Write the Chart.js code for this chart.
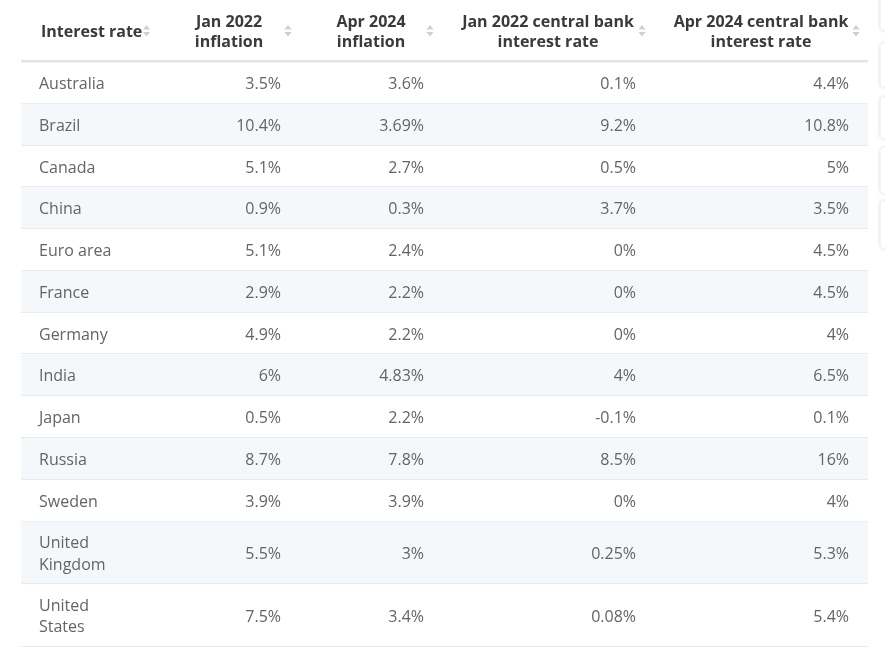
<!DOCTYPE html>
<html>
<head>
<meta charset="utf-8">
<script src="https://cdn.jsdelivr.net/npm/chart.js@4"></script>
<style>
  html, body { margin: 0; padding: 0; background: #ffffff; }
  #wrap { position: relative; width: 885px; height: 655px; }
</style>
</head>
<body>
<div id="wrap"><canvas id="c"></canvas></div>
<script>
// ---------- DATA ----------
const headers = [
  ["Interest rate"],
  ["Jan 2022", "inflation"],
  ["Apr 2024", "inflation"],
  ["Jan 2022 central bank", "interest rate"],
  ["Apr 2024 central bank", "interest rate"]
];
const countries = ["Australia", "Brazil", "Canada", "China", "Euro area", "France", "Germany",
  "India", "Japan", "Russia", "Sweden", "United Kingdom", "United States"];
const jan2022Inflation = [3.5, 10.4, 5.1, 0.9, 5.1, 2.9, 4.9, 6, 0.5, 8.7, 3.9, 5.5, 7.5];
const apr2024Inflation = [3.6, 3.69, 2.7, 0.3, 2.4, 2.2, 2.2, 4.83, 2.2, 7.8, 3.9, 3, 3.4];
const jan2022Rate = [0.1, 9.2, 0.5, 3.7, 0, 0, 0, 4, -0.1, 8.5, 0, 0.25, 0.08];
const apr2024Rate = [4.4, 10.8, 5, 3.5, 4.5, 4.5, 4, 6.5, 0.1, 16, 4, 5.3, 5.4];
const valueColumns = [jan2022Inflation, apr2024Inflation, jan2022Rate, apr2024Rate];

// ---------- LAYOUT / STYLE ----------
const FONT = "'Open Sans', 'Noto Sans', sans-serif";
const BODY_FONT = "16px " + FONT;
const HEAD_FONT = "bold 16px " + FONT;
const BODY_COLOR = "#646464";
const HEAD_COLOR = "#3a3a3a";
const STRIPE = "#f5f8fb";
const RULE = "#e7ebef";
const HEAD_RULE = "#e3e3e3";
const ICON = "#cfcfcf";
const HEADER_UNITS = 1.483;       // header height in row units
const COUNTRY_WRAP = 92;          // px width before country label wraps
const TEXT_SHIFT = 1.5;           // baseline nudge
// column layout in table x-units (0 = table left edge)
const colLayout = [
  { align: "left",  x: 18,  head: 20,  headAlign: "left",  icon: 125.5 },
  { align: "right", x: 260, head: 208, headAlign: "center", icon: 267 },
  { align: "right", x: 403, head: 350, headAlign: "center", icon: 409 },
  { align: "right", x: 615, head: 527, headAlign: "center", icon: 621 },
  { align: "right", x: 828, head: 740, headAlign: "center", icon: 835 }
];

function wrapText(ctx, text, maxW) {
  const words = text.split(" ");
  const lines = [];
  let cur = "";
  words.forEach(w => {
    const t = cur ? cur + " " + w : w;
    if (cur && ctx.measureText(t).width > maxW) { lines.push(cur); cur = w; }
    else cur = t;
  });
  if (cur) lines.push(cur);
  return lines;
}

const measureCtx = document.createElement("canvas").getContext("2d");
measureCtx.font = BODY_FONT;
const countryLines = countries.map(c => wrapText(measureCtx, c, COUNTRY_WRAP));
const rowUnits = countryLines.map(l => 1 + 0.5 * (l.length - 1));
const rowStart = [];
rowUnits.reduce((acc, u, i) => { rowStart[i] = acc; return acc + u; }, 0);
const totalUnits = rowUnits.reduce((a, b) => a + b, 0);

const tablePlugin = {
  id: "tablePlugin",
  beforeDatasetsDraw(chart) {
    const { ctx, scales: { x, y } } = chart;
    const left = x.getPixelForValue(0), right = x.getPixelForValue(x.max);
    ctx.save();
    countries.forEach((c, i) => {
      const top = y.getPixelForValue(rowStart[i]);
      const bot = y.getPixelForValue(rowStart[i] + rowUnits[i]);
      if (i % 2 === 1) { ctx.fillStyle = STRIPE; ctx.fillRect(left, top, right - left, bot - top); }
      ctx.fillStyle = RULE;
      ctx.fillRect(left, Math.round(bot) - 1, right - left, 1);
    });
    const hb = y.getPixelForValue(0);
    ctx.fillStyle = HEAD_RULE;
    ctx.fillRect(left, hb - 2, right - left, 2.5);

    const hMid = (y.getPixelForValue(y.min) + hb) / 2 - 0.5;
    ctx.font = HEAD_FONT;
    ctx.fillStyle = HEAD_COLOR;
    ctx.textBaseline = "middle";
    headers.forEach((lines, ci) => {
      const L = colLayout[ci];
      ctx.textAlign = L.headAlign;
      const hx = x.getPixelForValue(L.head);
      const lh = 20;
      lines.forEach((ln, k) => {
        ctx.fillText(ln, hx, hMid + TEXT_SHIFT + (k - (lines.length - 1) / 2) * lh);
      });
      const ix = x.getPixelForValue(L.icon);
      ctx.fillStyle = ICON;
      ctx.beginPath();
      ctx.moveTo(ix - 3.5, hMid - 1); ctx.lineTo(ix + 3.5, hMid - 1); ctx.lineTo(ix, hMid - 5.5); ctx.closePath();
      ctx.fill();
      ctx.beginPath();
      ctx.moveTo(ix - 3.5, hMid + 1.5); ctx.lineTo(ix + 3.5, hMid + 1.5); ctx.lineTo(ix, hMid + 6); ctx.closePath();
      ctx.fill();
      ctx.fillStyle = HEAD_COLOR;
    });

    ctx.font = BODY_FONT;
    ctx.fillStyle = BODY_COLOR;
    countries.forEach((c, i) => {
      const mid = y.getPixelForValue(rowStart[i] + rowUnits[i] / 2) + TEXT_SHIFT;
      const lines = countryLines[i];
      ctx.textAlign = "left";
      lines.forEach((ln, k) => {
        ctx.fillText(ln, x.getPixelForValue(colLayout[0].x), mid + (k - (lines.length - 1) / 2) * 21.5);
      });
      valueColumns.forEach((col, ci) => {
        ctx.textAlign = "right";
        ctx.fillText(String(col[i]) + "%", x.getPixelForValue(colLayout[ci + 1].x), mid);
      });
    });

    const panels = [[-10, 30], [43, 87], [97, 138], [148, 193], [201, 248]];
    panels.forEach(([t, b]) => {
      ctx.save();
      ctx.shadowColor = "rgba(0,0,0,0.18)";
      ctx.shadowBlur = 4;
      ctx.fillStyle = "#ffffff";
      ctx.beginPath();
      ctx.roundRect(880.5, t, 30, b - t, 4);
      ctx.fill();
      ctx.restore();
    });
    ctx.restore();
  }
};

new Chart(document.getElementById("c"), {
  type: "scatter",
  data: { datasets: [{ data: [], pointRadius: 0 }] },
  options: {
    responsive: true,
    maintainAspectRatio: false,
    animation: false,
    layout: { padding: { left: 21, right: 17, top: 0, bottom: 8 } },
    plugins: { legend: { display: false }, tooltip: { enabled: false } },
    scales: {
      x: { type: "linear", min: 0, max: 847, display: false },
      y: { type: "linear", reverse: true, min: -HEADER_UNITS, max: totalUnits, display: false }
    }
  },
  plugins: [tablePlugin]
});
</script>
</body>
</html>
